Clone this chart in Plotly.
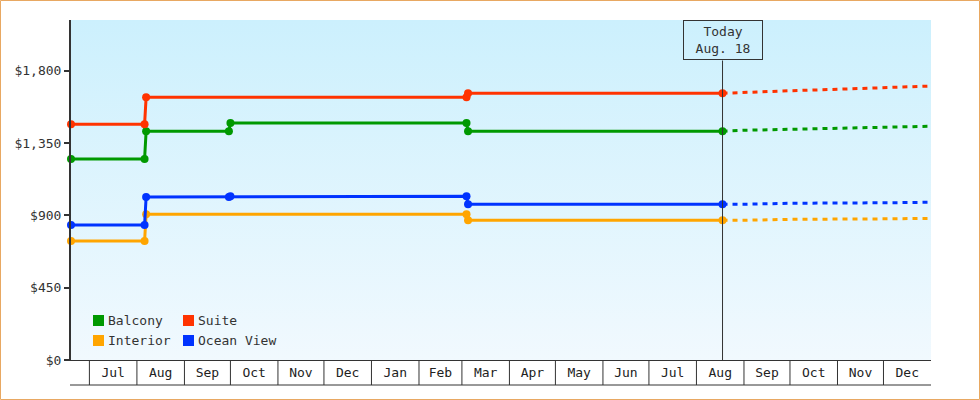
"""
Cabin price history chart: step lines up to today, dotted forecast after.
"""

import base64

import pandas as pd
import plotly.graph_objects as go

FONT = "DejaVu Sans Mono"
INK = "#333333"

# x-axis window and month cells
X_START = "2022-06-19"
X_END = "2024-01-01"
MONTH_LABELS = ["Jul", "Aug", "Sep", "Oct", "Nov", "Dec", "Jan", "Feb", "Mar",
                "Apr", "May", "Jun", "Jul", "Aug", "Sep", "Oct", "Nov", "Dec"]
FIRST_MONTH = "2022-07-01"

Y_MAX = 2115
Y_TICKS = [0, 450, 900, 1350, 1800]
Y_TICK_LABELS = ["$0", "$450", "$900", "$1,350", "$1,800"]

TODAY = "2023-08-18"
TODAY_LABEL = "Today<br>Aug. 18"

# price history (solid)
BALCONY_DATES = ["2022-06-19", "2022-08-06", "2022-08-07", "2022-09-30", "2022-10-01",
                 "2023-03-04", "2023-03-05", "2023-08-18"]
BALCONY_PRICES = [1250, 1250, 1423, 1423, 1474, 1474, 1423, 1423]

SUITE_DATES = ["2022-06-19", "2022-08-06", "2022-08-07", "2023-03-04", "2023-03-05",
               "2023-08-18"]
SUITE_PRICES = [1466, 1466, 1634, 1634, 1659, 1659]

INTERIOR_DATES = ["2022-06-19", "2022-08-06", "2022-08-07", "2023-03-04", "2023-03-05",
                  "2023-08-18"]
INTERIOR_PRICES = [740, 740, 906, 906, 869, 869]

OCEAN_DATES = ["2022-06-19", "2022-08-06", "2022-08-07", "2022-09-30", "2022-10-01",
               "2023-03-04", "2023-03-05", "2023-08-18"]
OCEAN_PRICES = [840, 840, 1014, 1014, 1018, 1018, 969, 969]

# forecast (dotted)
FORECAST_DATES = ["2023-08-18", "2023-09-01", "2023-10-01", "2023-11-01", "2023-12-01",
                  "2023-12-31"]
BALCONY_FORECAST = [1423, 1429, 1435, 1441, 1448, 1454]
SUITE_FORECAST = [1659, 1665, 1675, 1684, 1696, 1704]
INTERIOR_FORECAST = [869, 869, 875, 875, 878, 881]
OCEAN_FORECAST = [969, 969, 975, 975, 978, 981]

SERIES = [
    ("Balcony", "#009900", BALCONY_DATES, BALCONY_PRICES, BALCONY_FORECAST),
    ("Suite", "#ff3300", SUITE_DATES, SUITE_PRICES, SUITE_FORECAST),
    ("Interior", "#ffa500", INTERIOR_DATES, INTERIOR_PRICES, INTERIOR_FORECAST),
    ("Ocean View", "#0033ff", OCEAN_DATES, OCEAN_PRICES, OCEAN_FORECAST),
]

# layout in pixels
W, H = 980, 400
M_L, M_R, M_T, M_B = 71, 49, 20, 40
PLOT_W = W - M_L - M_R
PLOT_H = H - M_T - M_B


def px_x(px):
    return (px - M_L) / PLOT_W


def px_y(py):
    return (H - M_B - py) / PLOT_H


fig = go.Figure()

for name, color, dates, prices, forecast in SERIES:
    fig.add_trace(go.Scatter(
        x=FORECAST_DATES, y=forecast, mode="lines",
        line=dict(color=color, width=3, dash="5px,5px"),
        showlegend=False, hoverinfo="skip", cliponaxis=False,
    ))
for name, color, dates, prices, forecast in SERIES:
    fig.add_trace(go.Scatter(
        x=dates, y=prices, mode="lines+markers", name=name,
        line=dict(color=color, width=3),
        marker=dict(color=color, size=8),
        showlegend=False, cliponaxis=False,
    ))

# gradient plot background
svg = ('<svg xmlns="http://www.w3.org/2000/svg" width="10" height="100" '
       'preserveAspectRatio="none"><defs><linearGradient id="g" x1="0" y1="0" '
       'x2="0" y2="1"><stop offset="0" stop-color="#ccf0fd"/>'
       '<stop offset="1" stop-color="#f1f9fe"/></linearGradient></defs>'
       '<rect width="10" height="100" fill="url(#g)"/></svg>')
bg_src = "data:image/svg+xml;base64," + base64.b64encode(svg.encode()).decode()

month_starts = pd.date_range(FIRST_MONTH, periods=len(MONTH_LABELS), freq="MS")
month_ends = month_starts + pd.offsets.MonthBegin(1)
month_mids = month_starts + (month_ends - month_starts) / 2

cell_bottom = px_y(385)
shapes = []
for start in month_starts:
    shapes.append(dict(type="line", xref="x", yref="paper", x0=start, x1=start,
                       y0=0, y1=cell_bottom, line=dict(color=INK, width=1)))
shapes.append(dict(type="line", xref="paper", yref="paper", x0=px_x(70), x1=1,
                   y0=cell_bottom, y1=cell_bottom, line=dict(color=INK, width=1)))
# today marker line
shapes.append(dict(type="line", xref="x", yref="paper", x0=TODAY, x1=TODAY,
                   y0=0, y1=px_y(60.5), line=dict(color=INK, width=1)))
# outer frame
shapes.append(dict(type="rect", xref="paper", yref="paper",
                   x0=px_x(0.5), x1=px_x(W - 0.5), y0=px_y(H - 0.5), y1=px_y(0.5),
                   line=dict(color="#e8a862", width=1)))

annotations = [dict(
    x=TODAY, xref="x", y=1, yref="paper", yanchor="top", xanchor="center",
    text=TODAY_LABEL, showarrow=False, align="center",
    font=dict(family=FONT, size=13, color=INK),
    bordercolor=INK, borderwidth=1, borderpad=1, width=76, height=36,
)]

# legend: two rows of colour squares
for i, (name, color, *_rest) in enumerate(SERIES):
    col, row = i % 2, i // 2
    sx = 93 + col * 90
    sy = 315 + row * 20
    shapes.append(dict(type="rect", xref="paper", yref="paper",
                       x0=px_x(sx), x1=px_x(sx + 11), y0=px_y(sy + 11), y1=px_y(sy),
                       fillcolor=color, line=dict(width=0)))
    annotations.append(dict(
        x=px_x(sx + 13), xref="paper", y=px_y(sy + 5.5), yref="paper",
        xanchor="left", yanchor="middle", text=name, showarrow=False,
        font=dict(family=FONT, size=13, color=INK),
    ))

fig.update_layout(
    width=W, height=H,
    margin=dict(l=M_L, r=M_R, t=M_T, b=M_B),
    paper_bgcolor="white",
    plot_bgcolor="white",
    font=dict(family=FONT, size=13, color=INK),
    showlegend=False,
    shapes=shapes,
    annotations=annotations,
    images=[dict(source=bg_src, xref="paper", yref="paper", x=0, y=1,
                 sizex=1, sizey=1, xanchor="left", yanchor="top",
                 sizing="stretch", layer="below")],
    xaxis=dict(
        range=[X_START, X_END], showgrid=False, zeroline=False,
        showline=True, linecolor=INK, linewidth=1,
        tickmode="array", tickvals=month_mids, ticktext=MONTH_LABELS,
        ticks="outside", ticklen=0, tickcolor="rgba(0,0,0,0)",
        tickfont=dict(family=FONT, size=13, color="#222222"),
    ),
    yaxis=dict(
        range=[0, Y_MAX], showgrid=False, zeroline=False,
        showline=True, linecolor=INK, linewidth=2,
        tickmode="array", tickvals=Y_TICKS, ticktext=Y_TICK_LABELS,
        ticks="outside", ticklen=5, tickwidth=2, tickcolor=INK,
        tickfont=dict(family=FONT, size=13, color=INK),
    ),
)

fig.write_html("out.html", config={"displayModeBar": False},
               post_script="document.body.style.margin = '0';")
